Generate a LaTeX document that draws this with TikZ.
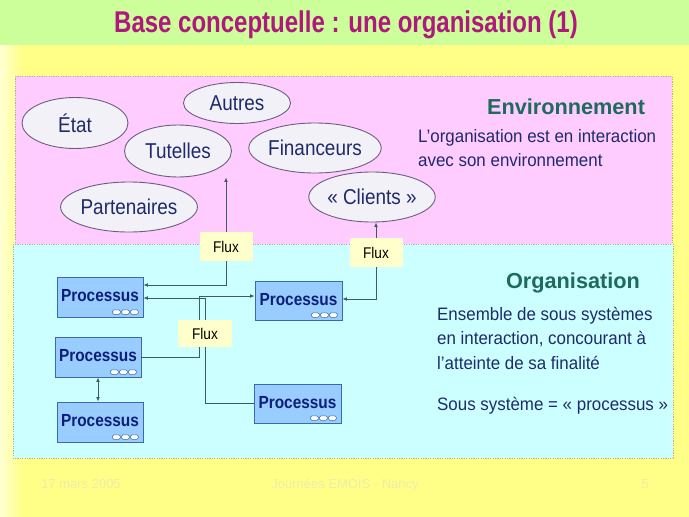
\documentclass[tikz,border=0pt]{standalone}
\usepackage{fontspec}
\setmainfont{Liberation Sans}
\newfontfamily\narrowA[FakeStretch=0.88]{Liberation Sans}
\newfontfamily\narrowB[FakeStretch=0.8]{Liberation Sans}
\newfontfamily\narrowC[FakeStretch=0.94]{Liberation Sans}
\usepackage{graphicx}
\usetikzlibrary{arrows.meta,calc,shapes.geometric}
\definecolor{bandgreen}{HTML}{CCFF99}
\definecolor{bgyellow}{HTML}{FFFF88}
\definecolor{paleyellow}{HTML}{FFFFD4}
\definecolor{envpink}{HTML}{FFCCFF}
\definecolor{orgcyan}{HTML}{CCFFFF}
\definecolor{titlecol}{HTML}{B0177F}
\definecolor{headcol}{HTML}{1E6B5E}
\definecolor{navy}{HTML}{1F2A6B}
\definecolor{procnavy}{HTML}{0B1F7A}
\definecolor{procfill}{HTML}{99CCFF}
\definecolor{procedge}{HTML}{3A6AA8}
\definecolor{ellfill}{HTML}{F3F1F8}
\definecolor{elledge}{HTML}{6E5E7E}
\definecolor{fluxfill}{HTML}{FFFFCC}
\definecolor{linecol}{HTML}{3D5C5C}
\definecolor{footcol}{HTML}{EDEDAA}
\definecolor{regionedge}{HTML}{B8B094}
\newcommand\procicon[1]{%
  \foreach \k in {0,1,2}{\draw[iconseg] ($(#1.south east)+(-31+\k*9,-7.5)$) rectangle ++(8,4.5);}%
}
\begin{document}
\begin{tikzpicture}[x=1pt,y=-1pt,
  region/.style={draw=regionedge, line width=0.7pt, dash pattern=on 1.2pt off 1.2pt},
  cloud/.style={ellipse, draw=elledge, line width=0.9pt, fill=ellfill, inner sep=0pt,
    text=navy, font=\narrowA\fontsize{21.5}{24}\selectfont},
  procbox/.style={rectangle, draw=procedge, line width=0.8pt, fill=procfill, inner sep=0pt,
    minimum width=86pt, minimum height=40pt, text=procnavy, font=\narrowA\fontsize{17.5}{20}\bfseries},
  iconseg/.style={draw=procedge, fill=white, line width=0.5pt, rounded corners=1.5pt},
  fluxlabel/.style={rectangle, fill=fluxfill, inner sep=0pt, minimum width=53pt,
    minimum height=29pt, text=black, font=\narrowA\fontsize{15.5}{18}\selectfont},
  conn/.style={draw=linecol, line width=0.8pt, -{Latex[length=4.5pt,width=3.8pt]}},
  conn2/.style={draw=linecol, line width=0.8pt, {Latex[length=4.5pt,width=3.8pt]}-{Latex[length=4.5pt,width=3.8pt]}},
  headtext/.style={text=headcol, font=\fontsize{21.7}{26}\bfseries},
  bodytext/.style={text=navy, align=left, anchor=west, inner sep=0pt, font=\narrowC\fontsize{18}{24.5}\selectfont},
  foottext/.style={text=footcol, font=\fontsize{13}{15}\selectfont}
]
\useasboundingbox (0,0) rectangle (689,517);
% background
\fill[bgyellow] (0,0) rectangle (689,517);
\shade[left color=paleyellow, right color=bgyellow] (0,45) rectangle (22,517);
\fill[bandgreen] (0,0) rectangle (689,45);
\node[text=titlecol, inner sep=0pt, font=\narrowB\fontsize{30}{34}\bfseries] (title) at (346,25)
  {Base conceptuelle : une organisation (1)};
% regions
\fill[envpink] (15,76) rectangle (672,244);
\draw[region] (15,76) rectangle (672,244);
\fill[orgcyan] (13,244) rectangle (673,458);
\draw[region] (13,244) rectangle (673,458);
% environment ellipses
\node[cloud, minimum width=106pt, minimum height=51pt] (etat) at (75,123) {État};
\node[cloud, minimum width=107pt, minimum height=41pt] (autres) at (237,103) {Autres};
\node[cloud, minimum width=107pt, minimum height=52pt] (tutelles) at (178,151) {Tutelles};
\node[cloud, minimum width=128pt, minimum height=50pt] (partenaires) at (129,207) {Partenaires};
\node[cloud, minimum width=130pt, minimum height=50pt] (financeurs) at (315,148) {Financeurs};
\node[cloud, minimum width=119pt, minimum height=50pt] (clients) at (372,197) {« Clients »};
% texts
\node[headtext] (envhead) at (566,107) {Environnement};
\node[bodytext] (envtext) at (418,148) {L’organisation est en interaction\\avec son environnement};
\node[headtext] (orghead) at (573,283) {Organisation};
\node[bodytext] (orgtext) at (437,338) {Ensemble de sous systèmes\\en interaction, concourant à\\l’atteinte de sa finalité};
\node[bodytext] (orgdef) at (437,406) {Sous système = « processus »};
% processus boxes
\node[procbox] (p1) at (100,297) {\raisebox{3pt}{Processus}};
\node[procbox, minimum width=87pt, minimum height=39pt] (p2) at (298.5,300.5) {\raisebox{3pt}{Processus}};
\node[procbox] (p3) at (98,357) {\raisebox{3pt}{Processus}};
\node[procbox] (p4) at (100,422) {\raisebox{3pt}{Processus}};
\node[procbox, minimum width=87pt, minimum height=39pt] (p5) at (297.5,403.5) {\raisebox{3pt}{Processus}};
\procicon{p1}\procicon{p2}\procicon{p3}\procicon{p4}\procicon{p5}
% flux labels referenced by connectors
\node[fluxlabel] (f1) at (226,246.5) {Flux};
\node[fluxlabel] (f2) at (376,252.5) {Flux};
% connectors
\draw[conn] (f1.north) -- (f1.north |- tutelles.south);
\draw[conn] (f1.south) |- ([yshift=12pt]p1.east);
\draw[conn] (f2.north) -- (f2.north |- clients.south);
\draw[conn] (f2.south) |- ([yshift=1.5pt]p2.east);
\coordinate (ja) at (199,296);
\coordinate (jb) at (205,298);
\draw[conn] (p3.east) -| (ja) -- (ja -| p2.west);
\draw[conn] (p5.west) -| (jb) -- (jb -| p1.east);
\draw[conn2] (p3.south) -- (p3.south |- p4.north);
% flux label over the lines
\node[fluxlabel, minimum width=54pt, minimum height=27pt] (f3) at (205,333.5) {Flux};
% footer
\node[foottext, anchor=base] (fdate) at (81,488) {17 mars 2005};
\node[foottext, anchor=base] (fevent) at (345,488) {Journées EMOIS - Nancy};
\node[foottext, anchor=base] (fpage) at (645,488) {5};
\end{tikzpicture}
\end{document}
